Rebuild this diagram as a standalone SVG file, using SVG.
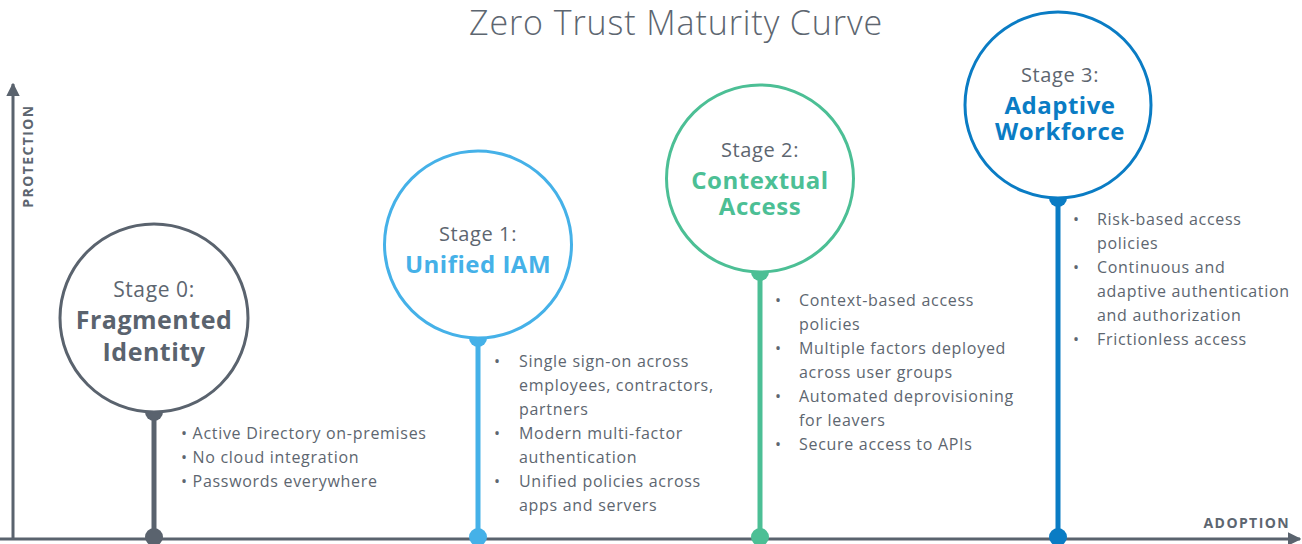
<svg xmlns="http://www.w3.org/2000/svg" width="1302" height="544" viewBox="0 0 1302 544">
<style>
.t{font-family:"Open Sans","Liberation Sans",sans-serif;fill:#5d6670}
.title{font-size:34px;font-weight:300;letter-spacing:0.9px}
.stg{font-size:20px;text-anchor:middle;letter-spacing:0.6px}
.nm{font-size:24px;font-weight:700;text-anchor:middle;letter-spacing:0.5px}
.b{font-size:16px;letter-spacing:0.7px}
.ax{font-size:14px;font-weight:700;letter-spacing:1.4px}
.ring{fill:#fff;stroke-width:3}
</style>
<defs>
<marker id="ah" viewBox="0 0 10 10" refX="9" refY="5" markerWidth="4.5" markerHeight="4.5" orient="auto"><path d="M0,0L10,5L0,10z" fill="#5a636e"/></marker>
</defs>
<rect width="1302" height="544" fill="#fff"/>
<text class="t title" x="676" y="35" text-anchor="middle">Zero Trust Maturity Curve</text>
<g id="axes">
<line x1="13" y1="539" x2="13" y2="84" stroke="#5a636e" stroke-width="3" marker-end="url(#ah)"/>
<line x1="0" y1="539" x2="1300" y2="539" stroke="#5a636e" stroke-width="3" marker-end="url(#ah)"/>
<text class="t ax" transform="translate(33,156) rotate(-90)" text-anchor="middle">PROTECTION</text>
<text class="t ax" x="1290" y="528" text-anchor="end">ADOPTION</text>
</g>
<g id="connectors">
<line x1="154" y1="412" x2="154" y2="537" stroke="#5a636e" stroke-width="5"/>
<line x1="478" y1="338" x2="478" y2="537" stroke="#45b1e8" stroke-width="5"/>
<line x1="760" y1="272" x2="760" y2="537" stroke="#4cbf95" stroke-width="5"/>
<line x1="1058" y1="198" x2="1058" y2="537" stroke="#0a7cc4" stroke-width="5"/>
</g>
<g id="stage0">
<circle cx="154" cy="412" r="9" fill="#5a636e"/>
<circle cx="154" cy="537" r="9" fill="#5a636e"/>
<circle class="ring" cx="154" cy="318" r="94" stroke="#5a636e"/>
<text class="t stg" x="154" y="297" style="font-size:21px">Stage 0:</text>
<text class="t nm" x="154" y="329" style="fill:#5a636e;font-size:25px">Fragmented</text>
<text class="t nm" x="154" y="361" style="fill:#5a636e;font-size:25px">Identity</text>
<text class="t b" x="181" y="439">• Active Directory on-premises</text>
<text class="t b" x="181" y="463">• No cloud integration</text>
<text class="t b" x="181" y="487">• Passwords everywhere</text>
</g>
<g id="stage1">
<circle cx="478" cy="338" r="9" fill="#45b1e8"/>
<circle cx="478" cy="537" r="9" fill="#45b1e8"/>
<circle class="ring" cx="478" cy="244.5" r="93.5" stroke="#45b1e8"/>
<text class="t stg" x="478" y="241">Stage 1:</text>
<text class="t nm" x="478" y="273" style="fill:#45b1e8">Unified IAM</text>
<text class="t b" x="494" y="367">•</text>
<text class="t b" x="519" y="367">Single sign-on across</text>
<text class="t b" x="519" y="391">employees, contractors,</text>
<text class="t b" x="519" y="415">partners</text>
<text class="t b" x="494" y="439">•</text>
<text class="t b" x="519" y="439">Modern multi-factor</text>
<text class="t b" x="519" y="463">authentication</text>
<text class="t b" x="494" y="487">•</text>
<text class="t b" x="519" y="487">Unified policies across</text>
<text class="t b" x="519" y="511">apps and servers</text>
</g>
<g id="stage2">
<circle cx="760" cy="272" r="9" fill="#4cbf95"/>
<circle cx="760" cy="537" r="9" fill="#4cbf95"/>
<circle class="ring" cx="760" cy="178.5" r="93.5" stroke="#4cbf95"/>
<text class="t stg" x="760" y="157">Stage 2:</text>
<text class="t nm" x="760" y="189" style="fill:#4cbf95">Contextual</text>
<text class="t nm" x="760" y="215" style="fill:#4cbf95">Access</text>
<text class="t b" x="775" y="306">•</text>
<text class="t b" x="799" y="306">Context-based access</text>
<text class="t b" x="799" y="330">policies</text>
<text class="t b" x="775" y="354">•</text>
<text class="t b" x="799" y="354">Multiple factors deployed</text>
<text class="t b" x="799" y="378">across user groups</text>
<text class="t b" x="775" y="402">•</text>
<text class="t b" x="799" y="402">Automated deprovisioning</text>
<text class="t b" x="799" y="426">for leavers</text>
<text class="t b" x="775" y="450">•</text>
<text class="t b" x="799" y="450">Secure access to APIs</text>
</g>
<g id="stage3">
<circle cx="1058" cy="198" r="9" fill="#0a7cc4"/>
<circle cx="1058" cy="537" r="9" fill="#0a7cc4"/>
<circle class="ring" cx="1058" cy="105" r="93" stroke="#0a7cc4"/>
<text class="t stg" x="1060" y="82">Stage 3:</text>
<text class="t nm" x="1060" y="114" style="fill:#0a7cc4">Adaptive</text>
<text class="t nm" x="1060" y="140" style="fill:#0a7cc4">Workforce</text>
<text class="t b" x="1073" y="225">•</text>
<text class="t b" x="1097" y="225">Risk-based access</text>
<text class="t b" x="1097" y="249">policies</text>
<text class="t b" x="1073" y="273">•</text>
<text class="t b" x="1097" y="273">Continuous and</text>
<text class="t b" x="1097" y="297">adaptive authentication</text>
<text class="t b" x="1097" y="321">and authorization</text>
<text class="t b" x="1073" y="345">•</text>
<text class="t b" x="1097" y="345">Frictionless access</text>
</g>
</svg>
